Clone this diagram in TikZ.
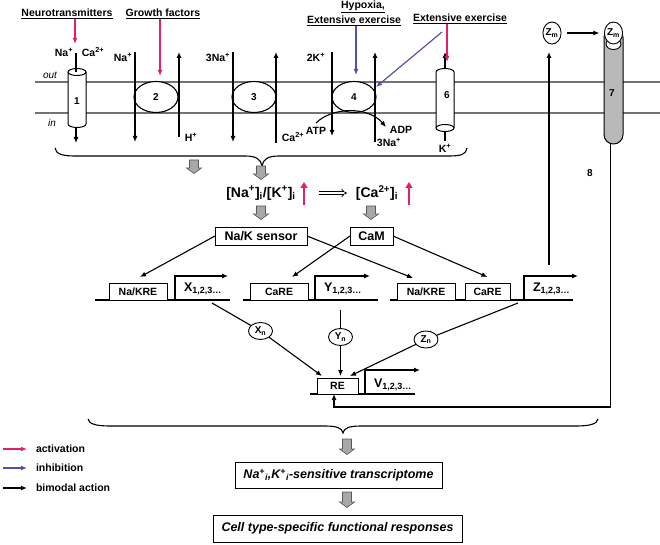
\documentclass[tikz,border=0pt]{standalone}
\usepackage{fontspec}
\setmainfont{Liberation Sans}
\usetikzlibrary{arrows.meta,shapes.geometric}
\definecolor{act}{RGB}{228,30,110}
\definecolor{inh}{RGB}{78,82,168}
\definecolor{membc}{RGB}{115,115,115}
\definecolor{blockc}{RGB}{168,168,168}
\newcommand\fs[1]{\fontsize{#1}{#1}\selectfont}
\newcommand\up[1]{\textsuperscript{#1}}
\newcommand\dn[1]{\textsubscript{#1}}
\begin{document}
\begin{tikzpicture}[x=1pt,y=-1pt,
 every node/.style={inner sep=0pt,outer sep=0pt,font=\bfseries\fs{10.5}},
 tip/.style={line width=1.1pt,-{Latex[length=6pt,width=5pt]}},
 ln/.style={line width=1.1pt},
 actarr/.style={act,line width=1.2pt,-{Latex[length=6pt,width=5pt]}},
 inharr/.style={inh,line width=1.2pt,-{Latex[length=6pt,width=5pt]}},
 uparr/.style={act,line width=2pt,-{Triangle[length=6pt,width=7pt]}},
 pump/.style={ellipse,draw,fill=white,line width=1.1pt,minimum width=44pt,minimum height=31pt,font=\bfseries\fs{10}},
 elem/.style={draw,fill=white,line width=0.9pt,minimum height=17pt,font=\bfseries\fs{10.5}},
 prod/.style={ellipse,draw,fill=white,line width=0.9pt,minimum width=24pt,minimum height=17pt,font=\bfseries\fs{10}},
 zmc/.style={ellipse,draw,fill=white,line width=0.9pt,minimum width=18pt,minimum height=22pt,font=\bfseries\fs{10}},
 sensor/.style={draw,line width=1pt,minimum height=18pt,font=\bfseries\fs{12.5}},
 bigbox/.style={draw,line width=1pt,fill=white,minimum height=26pt,font=\bfseries\itshape\fs{12.5}},
 gene/.style={anchor=west,font=\bfseries\fs{12.5}},
 num/.style={font=\bfseries\fs{10}},
 garrow/.pic={\filldraw[draw=black!65,fill=blockc,line width=0.6pt] (-4.5,-7) -- (4.5,-7) -- (4.5,1) -- (7.5,1) -- (0,6.5) -- (-7.5,1) -- (-4.5,1) -- cycle;},
 garrowl/.pic={\filldraw[draw=black!65,fill=blockc,line width=0.6pt] (-4.5,-8) -- (4.5,-8) -- (4.5,2) -- (7.5,2) -- (0,7.5) -- (-7.5,2) -- (-4.5,2) -- cycle;}
]
\useasboundingbox (0,0) rectangle (660,545);

% ---------------- membrane ----------------
\draw[membc,line width=1.2pt] (35,82) -- (660,82);
\draw[membc,line width=1.2pt] (35,113) -- (660,113);
\node[font=\itshape\fs{10}] (out) at (50,75) {out};
\node[font=\itshape\fs{10}] (in) at (52,123) {in};

% ---------------- top labels ----------------
\node (neuro) at (67,14) {\underline{Neurotransmitters}};
\node (growth) at (163,14) {\underline{Growth factors}};
\node (hypa) at (363,7) {\underline{Hypoxia,}};
\node (hypb) at (354,21) {\underline{Extensive exercise}};
\node (extx) at (460,19) {\underline{Extensive exercise}};

% ---------------- channel 1 ----------------
\filldraw[fill=white,line width=1pt] (68,72) -- (68,124) arc[start angle=180,end angle=0,x radius=9,y radius=3.5] -- (86,72);
\draw[fill=white,line width=1pt] (77,72) ellipse[x radius=9,y radius=3.5];
\node[num] (c1) at (77,101) {1};
\node (na1) at (64,52) {Na\up{+}};
\node (ca1) at (93,52) {Ca\up{2+}};
\coordinate (ch1t) at (76,72);
\coordinate (ch1b) at (76,128);
\draw[ln] (ch1t) -- ++(0,-19);
\coordinate (n1t) at (75,44);
\draw[actarr] (neuro.south -| n1t) -- (n1t);
\draw[tip] (ch1b) -- ++(0,15);

% ---------------- pumps ----------------
\node[pump] (p2) at (156,97) {2};
\node[pump] (p3) at (254,97) {3};
\node[pump] (p4) at (354,97) {4};
\draw[tip] (135,52) -- (135,142);
\draw[tip] (179,137) -- (179,52);
\draw[tip] (233,52) -- (233,142);
\draw[tip] (276,143) -- (276,52);
\draw[tip] (332,52) -- (332,136);
\draw[tip] (375,142) -- (375,52);
\node (na2) at (123,57) {Na\up{+}};
\node (h2) at (191,137) {H\up{+}};
\node (na3) at (218,57) {3Na\up{+}};
\node (k4) at (316,57) {2K\up{+}};
\node (ca4) at (293,137) {Ca\up{2+}};
\node (atp) at (316,131) {ATP};
\node (adp) at (401,130) {ADP};
\node (na4) at (389,142) {3Na\up{+}};
\draw[tip] (316,123) .. controls (332,107) and (368,106) .. (386,127);

\coordinate (g2t) at (160,76);
\draw[actarr] (growth.south -| g2t) -- (g2t);
\coordinate (h4t) at (356,75);
\draw[inharr] (hypb.south -| h4t) -- (h4t);
\coordinate (e4s) at (442,32);
\coordinate (e4t) at (376,87);
\draw[inharr] (e4s) -- (e4t);

% ---------------- channel 6 ----------------
\filldraw[fill=white,line width=1pt] (436,128) -- (436,72) arc[start angle=180,end angle=360,x radius=9,y radius=3.5] -- (454,128);
\draw[fill=white,line width=1pt] (445,128) ellipse[x radius=9,y radius=3.5];
\node[num] (c6) at (447,95) {6};
\draw[tip] (445,68.5) -- (445,52);
\draw[ln] (445,131.5) -- (445,141);
\node (k6) at (445,148) {K\up{+}};
\coordinate (e6t) at (447,62);
\draw[actarr] (extx.south -| e6t) -- (e6t);

% ---------------- receptor 7 ----------------
\node[draw,fill=gray!55,line width=1pt,rounded corners=9.4pt,minimum width=19pt,minimum height=116pt] (r7) at (613.5,86) {};
\draw[fill=white,line width=0.9pt] (613.5,44) ellipse[x radius=7.5,y radius=5.5];
\node[zmc] (zm2) at (613.5,33) {Z\dn{m}};
\node[zmc] (zm1) at (552,33) {Z\dn{m}};
\node[num] (l7) at (612,93) {7};
\node[num] (l8) at (590,173) {8};
\draw[tip,shorten <=6pt,shorten >=5pt] (zm1) -- (zm2);

% ---------------- top brace ----------------
\draw[ln] (55,148) .. controls (56,154) and (62,156) .. (75,156) -- (245,156) .. controls (256,156) and (261,159) .. (262,166) .. controls (263,159) and (268,156) .. (279,156) -- (449,156) .. controls (462,156) and (466,154) .. (467,148);

% ---------------- ions / sensors ----------------
\pic (b1) at (194,167) {garrow};
\pic (b2) at (261,173) {garrow};
\node[font=\bfseries\fs{14}] (nak) at (261,193) {[Na\up{+}]\dn{i}/[K\up{+}]\dn{i}};
\node[font=\bfseries\fs{14}] (cai) at (377,193) {[Ca\up{2+}]\dn{i}};
\draw[uparr] (304,205) -- (304,182);
\draw[uparr] (409,205) -- (409,182);
\draw[double,double distance=2.2pt,line width=0.7pt,-{Implies}] (319,193) -- (347,193);
\pic (b3) at (261,213) {garrow};
\pic (b4) at (371,213) {garrow};
\node[sensor,minimum width=92pt] (nks) at (261,236) {Na/K sensor};
\node[sensor,minimum width=43pt] (cam) at (371.5,236) {CaM};

% ---------------- genes ----------------
\draw[ln] (95,300) -- (230,300);
\draw[ln] (243,300) -- (378,300);
\draw[ln] (390,300) -- (573,300);
\node[elem,minimum width=58pt] (kre1) at (138,291.5) {Na/KRE};
\node[elem,minimum width=58pt] (care1) at (279,291.5) {CaRE};
\node[elem,minimum width=58pt] (kre2) at (426,291.5) {Na/KRE};
\node[elem,minimum width=45pt] (care2) at (487.5,291.5) {CaRE};
\draw[tip] (175,300) |- (228,276);
\draw[tip] (315,300) |- (370,276);
\draw[tip] (524,300) |- (578,276);
\node[gene] (xg) at (184,289) {X\dn{\fs{9}1,2,3…}};
\node[gene] (yg) at (324,289) {Y\dn{\fs{9}1,2,3…}};
\node[gene] (zg) at (533,289) {Z\dn{\fs{9}1,2,3…}};

\draw[tip] (nks.west) -- ([xshift=2pt,yshift=6pt]kre1.north);
\draw[tip] (nks.east) -- ([xshift=-13pt,yshift=5pt]kre2.north);
\draw[tip] (cam.west) -- ([xshift=13pt,yshift=6pt]care1.north);
\draw[tip] (cam.east) -- ([yshift=6pt]care2.north);
\coordinate (zup) at (549,265);
\draw[tip,shorten >=8pt] (zup) -- (zup |- zm1.south);

% ---------------- products / RE ----------------
\node[prod] (xn) at (260.5,331) {X\dn{n}};
\node[prod] (yn) at (340.5,337) {Y\dn{n}};
\node[prod] (zn) at (426,339.5) {Z\dn{n}};
\draw[ln] (310,394) -- (415,394);
\node[elem,minimum width=41pt,minimum height=16pt] (re) at (337.5,386) {RE};
\draw[tip] (365,394) |- (420,370);
\node[gene] (vg) at (374,385) {V\dn{\fs{9}1,2,3…}};
\coordinate (xs) at (212,303);
\coordinate (ys) at (340.5,310);
\coordinate (zs) at (518,303);
\draw[ln] (xs) -- (xn);
\draw[ln] (ys) -- (yn);
\draw[ln] (zs) -- (zn);
\draw[tip] (xn) -- ([xshift=5pt,yshift=2pt]re.north west);
\draw[tip] (yn) -- ([yshift=2pt]yn |- re.north);
\draw[tip] (zn) -- ([xshift=-8pt,yshift=2pt]re.north east);
\coordinate (fbc) at (334,407);
\draw[tip] ([xshift=-3pt]r7.south) |- (fbc) -- (fbc |- re.south);

% ---------------- bottom ----------------
\draw[ln] (88,419) .. controls (89,424) and (96,426) .. (110,426) -- (325,426) .. controls (337,426) and (342,428) .. (343,433) .. controls (344,428) and (349,426) .. (361,426) -- (576,426) .. controls (590,426) and (597,424) .. (598,419);
\pic (b5) at (347,447) {garrowl};
\node[bigbox,minimum width=207pt] (tr) at (338.5,475) {Na\up{+}\dn{i},K\up{+}\dn{i}-sensitive transcriptome};
\pic (b6) at (347,500) {garrowl};
\node[bigbox,minimum width=249pt,minimum height=27pt] (cell) at (337.5,528.5) {Cell type-specific functional responses};

% ---------------- legend ----------------
\node[anchor=west] (la) at (36,449) {activation};
\node[anchor=west] (li) at (36,468) {inhibition};
\node[anchor=west] (lb) at (36,488) {bimodal action};
\draw[actarr] ([xshift=-33pt]la.west) -- ([xshift=-9pt]la.west);
\draw[inharr] ([xshift=-33pt]li.west) -- ([xshift=-9pt]li.west);
\draw[tip,line width=1.2pt] ([xshift=-33pt]lb.west) -- ([xshift=-9pt]lb.west);
\end{tikzpicture}
\end{document}
